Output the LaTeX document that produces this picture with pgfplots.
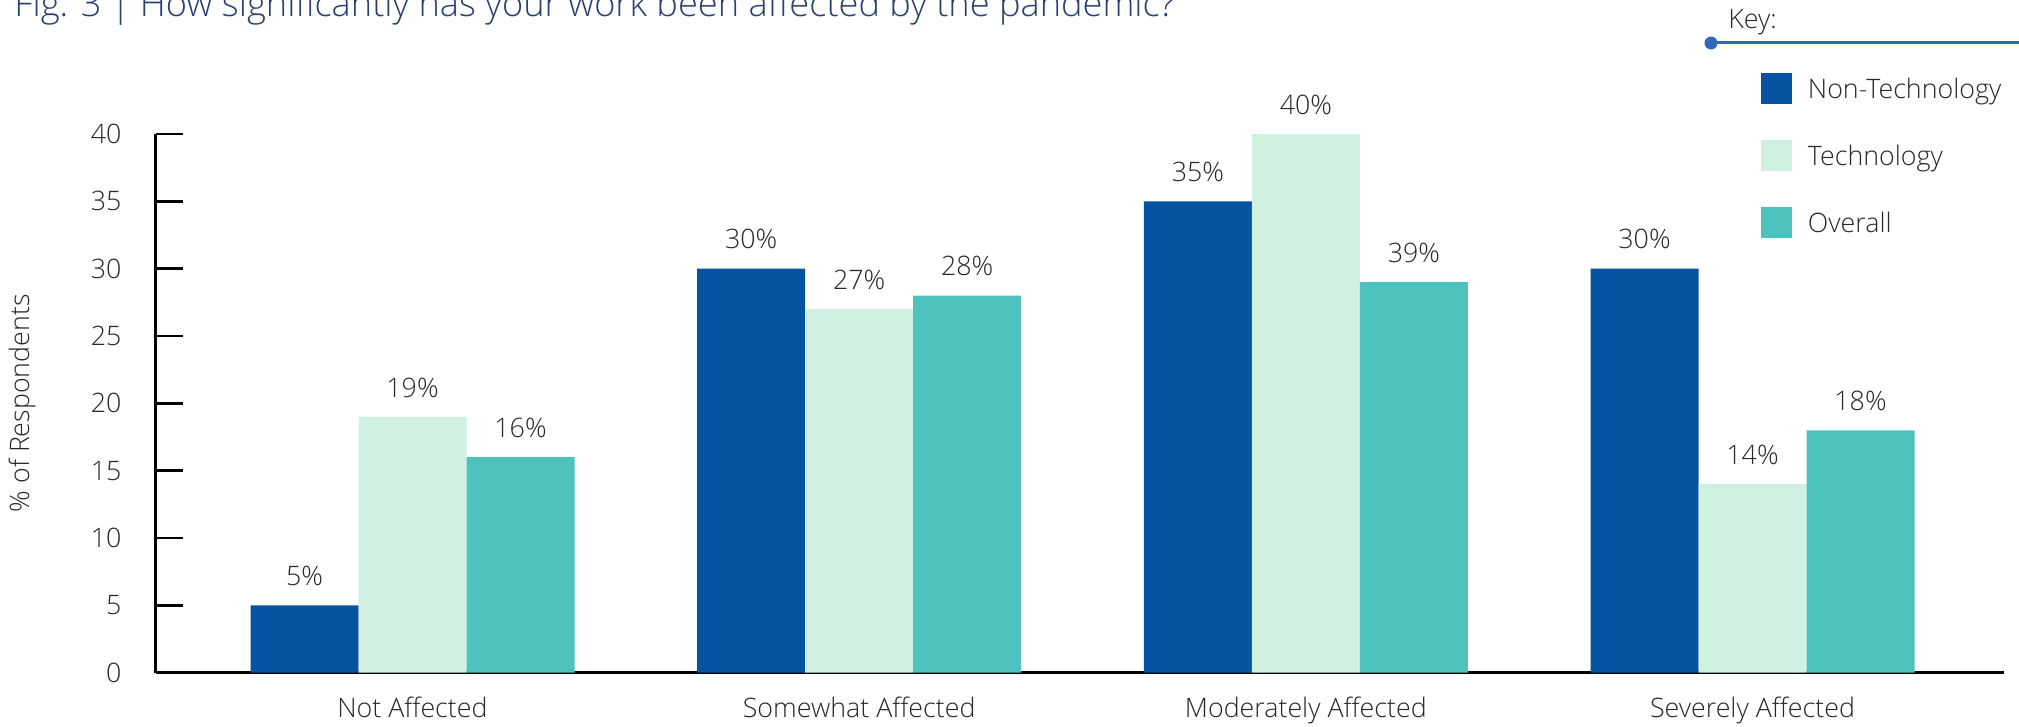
\documentclass[border=0pt]{standalone}
\usepackage{fontspec}
\setmainfont{Open Sans}[UprightFont=* Light]
\usepackage{pgfplots}
\pgfplotsset{compat=1.18}
\definecolor{nontech}{RGB}{6,83,161}
\definecolor{tech}{RGB}{208,240,225}
\definecolor{overall}{RGB}{78,194,190}
\definecolor{keyblue}{RGB}{47,106,180}
\definecolor{titlecol}{RGB}{42,64,110}
\definecolor{txt}{RGB}{40,40,40}
\newcommand\lblfont{\fontsize{13.4}{15}\selectfont}
\begin{document}
\begin{tikzpicture}
\node[anchor=base west, inner sep=0pt, font=\fontsize{18.1}{21}\selectfont, text=titlecol] at (7pt,-8.35pt) {Fig. 3 | How significantly has your work been affected by the pandemic?};
\node[anchor=base west, inner sep=0pt, font=\lblfont, text=txt] at (864pt,-14.15pt) {Key:};
\draw[keyblue, line width=1.5pt] (855.5pt,-21.5pt) -- (1012pt,-21.5pt);
\fill[keyblue] (855.5pt,-21.5pt) circle (3.25pt);
\begin{axis}[
  at={(77.85pt,-336.35pt)}, anchor=south west,
  scale only axis, width=924.15pt, height=269.35pt,
  xmin=-0.575, xmax=3.563, ymin=0, ymax=40,
  clip=false,
  ybar=0pt, bar width=54pt,
  axis x line=bottom, axis y line=left,
  axis line style={-, line width=1.25pt, black},
  xtick={0,1,2,3},
  xticklabels={Not Affected, Somewhat Affected, Moderately Affected, Severely Affected},
  xtick style={draw=none},
  ytick={0,5,...,40},
  tick align=inside, major tick length=13.5pt,
  ytick style={line width=1.25pt, black},
  /pgf/number format/assume math mode=true,
  yticklabel style={anchor=east, inner sep=0pt, xshift=-16.9pt, font=\lblfont, text=txt},
  xticklabel style={anchor=base, inner sep=0pt, yshift=-22.3pt, font=\lblfont, text=txt},
  ylabel={\% of Respondents},
  every axis y label/.style={at={(axis description cs:-0.0723,0.5)}, rotate=90, anchor=center, font=\lblfont, text=txt},
  point meta=explicit symbolic,
  nodes near coords={\pgfplotspointmeta},
  every node near coord/.append style={inner sep=0pt, yshift=9.5pt, font=\lblfont, text=txt},
  legend style={at={(0.8685,1.1132)}, anchor=north west, draw=none, fill=none, inner sep=0pt, outer sep=0pt, row sep=18pt, column sep=8pt, font=\lblfont, text=txt, nodes={inner sep=0pt, text height=12pt, text depth=2pt}},
  legend cell align=left,
  every axis plot post/.append style={legend image code/.code={\fill[##1] (0pt,-7.75pt) rectangle (15.5pt,7.75pt);}},
]
\addplot[fill=nontech, draw=none] coordinates {(0,5) [5\%] (1,30) [30\%] (2,35) [35\%] (3,30) [30\%]};
\addplot[fill=tech, draw=none] coordinates {(0,19) [19\%] (1,27) [27\%] (2,40) [40\%] (3,14) [14\%]};
\addplot[fill=overall, draw=none] coordinates {(0,16) [16\%] (1,28) [28\%] (2,29) [39\%] (3,18) [18\%]};
\legend{Non-Technology, Technology, Overall}
\end{axis}
\pgfresetboundingbox
\useasboundingbox (0pt,0pt) rectangle (1009.5pt,-363.5pt);
\end{tikzpicture}
\end{document}
